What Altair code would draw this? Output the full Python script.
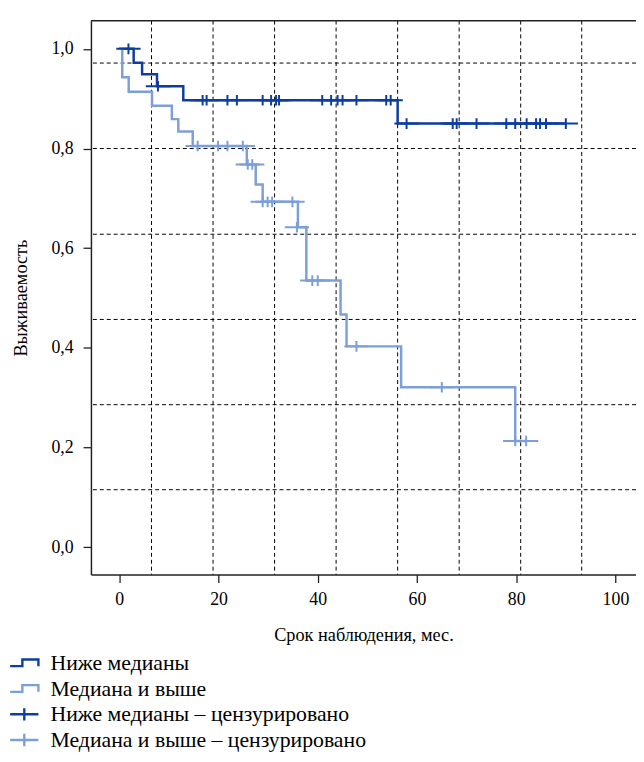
import altair as alt
import pandas as pd

# ---------------- data ----------------
LBL_LOW = "Ниже медианы"
LBL_HIGH = "Медиана и выше"
LBL_LOW_C = "Ниже медианы – цензурировано"
LBL_HIGH_C = "Медиана и выше – цензурировано"
labels = [LBL_LOW, LBL_HIGH, LBL_LOW_C, LBL_HIGH_C]

# step curves: start time of each level and its survival value (last row = end of curve)
low_t = [0.0, 2.9, 4.6, 7.6, 12.9, 56.1, 90.0]
low_s = [1.0, 0.972, 0.949, 0.925, 0.897, 0.850, 0.850]
high_t = [0.0, 0.6, 1.9, 6.6, 10.6, 11.9, 14.8, 25.7, 27.5, 28.9, 36.0, 37.7, 44.6, 45.8, 56.8, 79.8, 82.0]
high_s = [1.0, 0.943, 0.914, 0.886, 0.859, 0.834, 0.805, 0.768, 0.728, 0.693, 0.642, 0.535, 0.467, 0.403, 0.321, 0.213, 0.213]

# censored observations
low_c_t = [1.85, 7.8, 16.8, 17.6, 21.8, 23.7, 28.9, 30.6, 31.6, 32.2, 40.9, 42.7, 44.0, 45.0, 47.8, 53.8, 54.7,
           57.9, 67.2, 68.0, 72.0, 78.0, 79.8, 82.1, 84.0, 84.8, 86.0, 90.0]
low_c_s = [1.0, 0.925] + [0.897] * 15 + [0.850] * 11
high_c_t = [15.8, 19.9, 21.8, 24.9, 25.9, 26.8, 28.9, 29.9, 30.8, 34.9, 35.8, 38.9, 40.0, 47.8, 65.0, 79.8, 82.0]
high_c_s = [0.805] * 4 + [0.768] * 2 + [0.693] * 4 + [0.642] + [0.535] * 2 + [0.403] + [0.321] + [0.213] * 2

x_ticks = [0, 20, 40, 60, 80, 100]
y_ticks = [0.0, 0.2, 0.4, 0.6, 0.8, 1.0]
grid_x = [6.5, 18.9, 31.3, 43.7, 56.1, 68.5, 80.9, 93.2]
grid_y = [0.9715, 0.800, 0.628, 0.457, 0.286, 0.1154]

DARK = "#0d3d9f"
LIGHT = "#7d9fd9"
FONT = "Liberation Serif"

X_DOM = [-5.71, 104.14]
Y_DOM = [-0.0549, 1.0566]
W, H = 552, 561

lines_df = pd.DataFrame(
    [{"g": LBL_LOW, "t": t, "s": s} for t, s in zip(low_t, low_s)]
    + [{"g": LBL_HIGH, "t": t, "s": s} for t, s in zip(high_t, high_s)]
)
cens_df = pd.DataFrame(
    [{"g": LBL_LOW_C, "t": t, "s": s} for t, s in zip(low_c_t, low_c_s)]
    + [{"g": LBL_HIGH_C, "t": t, "s": s} for t, s in zip(high_c_t, high_c_s)]
)

STEP_PATH = "M-1.1,0.25H-0.15V-0.27H1.1V0.25"
PLUS_PATH = "M-1.1,0H1.1M0,-0.48V0.48"

xscale = alt.Scale(domain=X_DOM, nice=False, zero=False)
yscale = alt.Scale(domain=Y_DOM, nice=False, zero=False)
color_scale = alt.Scale(domain=labels, range=[DARK, LIGHT, DARK, LIGHT])
shape_scale = alt.Scale(domain=labels, range=[STEP_PATH, STEP_PATH, PLUS_PATH, PLUS_PATH])

legend = alt.Legend(
    title=None, orient="none", legendX=-82, legendY=636, direction="vertical",
    labelFont=FONT, labelFontSize=22, labelColor="black", labelOffset=12,
    symbolSize=676, symbolStrokeWidth=2.4, symbolFillColor="transparent",
    rowPadding=0, padding=0, labelLimit=500,
)

gx = alt.Chart(pd.DataFrame({"gx": grid_x})).mark_rule(
    color="black", strokeWidth=1, strokeDash=[4, 3]
).encode(x=alt.X("gx:Q", scale=xscale))
gy = alt.Chart(pd.DataFrame({"gy": grid_y})).mark_rule(
    color="black", strokeWidth=1, strokeDash=[4, 3]
).encode(y=alt.Y("gy:Q", scale=yscale))

top_spine = alt.Chart(pd.DataFrame({"a": [0]})).mark_rule(color="#222", strokeWidth=1.5).encode(
    x=alt.value(0), x2=alt.value(W), y=alt.value(0)
)

lines = alt.Chart(lines_df).mark_line(interpolate="step-after", strokeWidth=2.5).encode(
    x=alt.X("t:Q", scale=xscale,
            axis=alt.Axis(values=x_ticks, title="Срок наблюдения, мес.", labelPadding=8, titlePadding=18)),
    y=alt.Y("s:Q", scale=yscale,
            axis=alt.Axis(values=y_ticks, title="Выживаемость", labelPadding=10, titlePadding=21,
                          labelExpr="replace(format(datum.value, '.1f'), '.', ',')")),
    color=alt.Color("g:N", scale=color_scale, legend=legend),
)

cens = alt.Chart(cens_df).mark_point(filled=False, size=500, strokeWidth=2, opacity=1).encode(
    x=alt.X("t:Q", scale=xscale),
    y=alt.Y("s:Q", scale=yscale),
    color=alt.Color("g:N", scale=color_scale, legend=legend),
    shape=alt.Shape("g:N", scale=shape_scale, legend=legend),
)

chart = alt.layer(gx, gy, top_spine, lines, cens).properties(
    width=W, height=H,
    autosize=alt.AutoSizeParams(type="none"),
    padding={"left": 84, "top": 8, "right": 0, "bottom": 185},
).configure(font=FONT).configure_view(stroke=None).configure_axis(
    grid=False, domainColor="#222", domainWidth=1.5, tickColor="#222", tickWidth=1.3, tickSize=8,
    labelFont=FONT, labelFontSize=18, labelColor="black",
    titleFont=FONT, titleFontSize=18.5, titleFontWeight="normal", titleColor="black",
).configure_legend(labelFont=FONT)

chart.save("out.html", embed_options={"renderer": "svg", "actions": False})
